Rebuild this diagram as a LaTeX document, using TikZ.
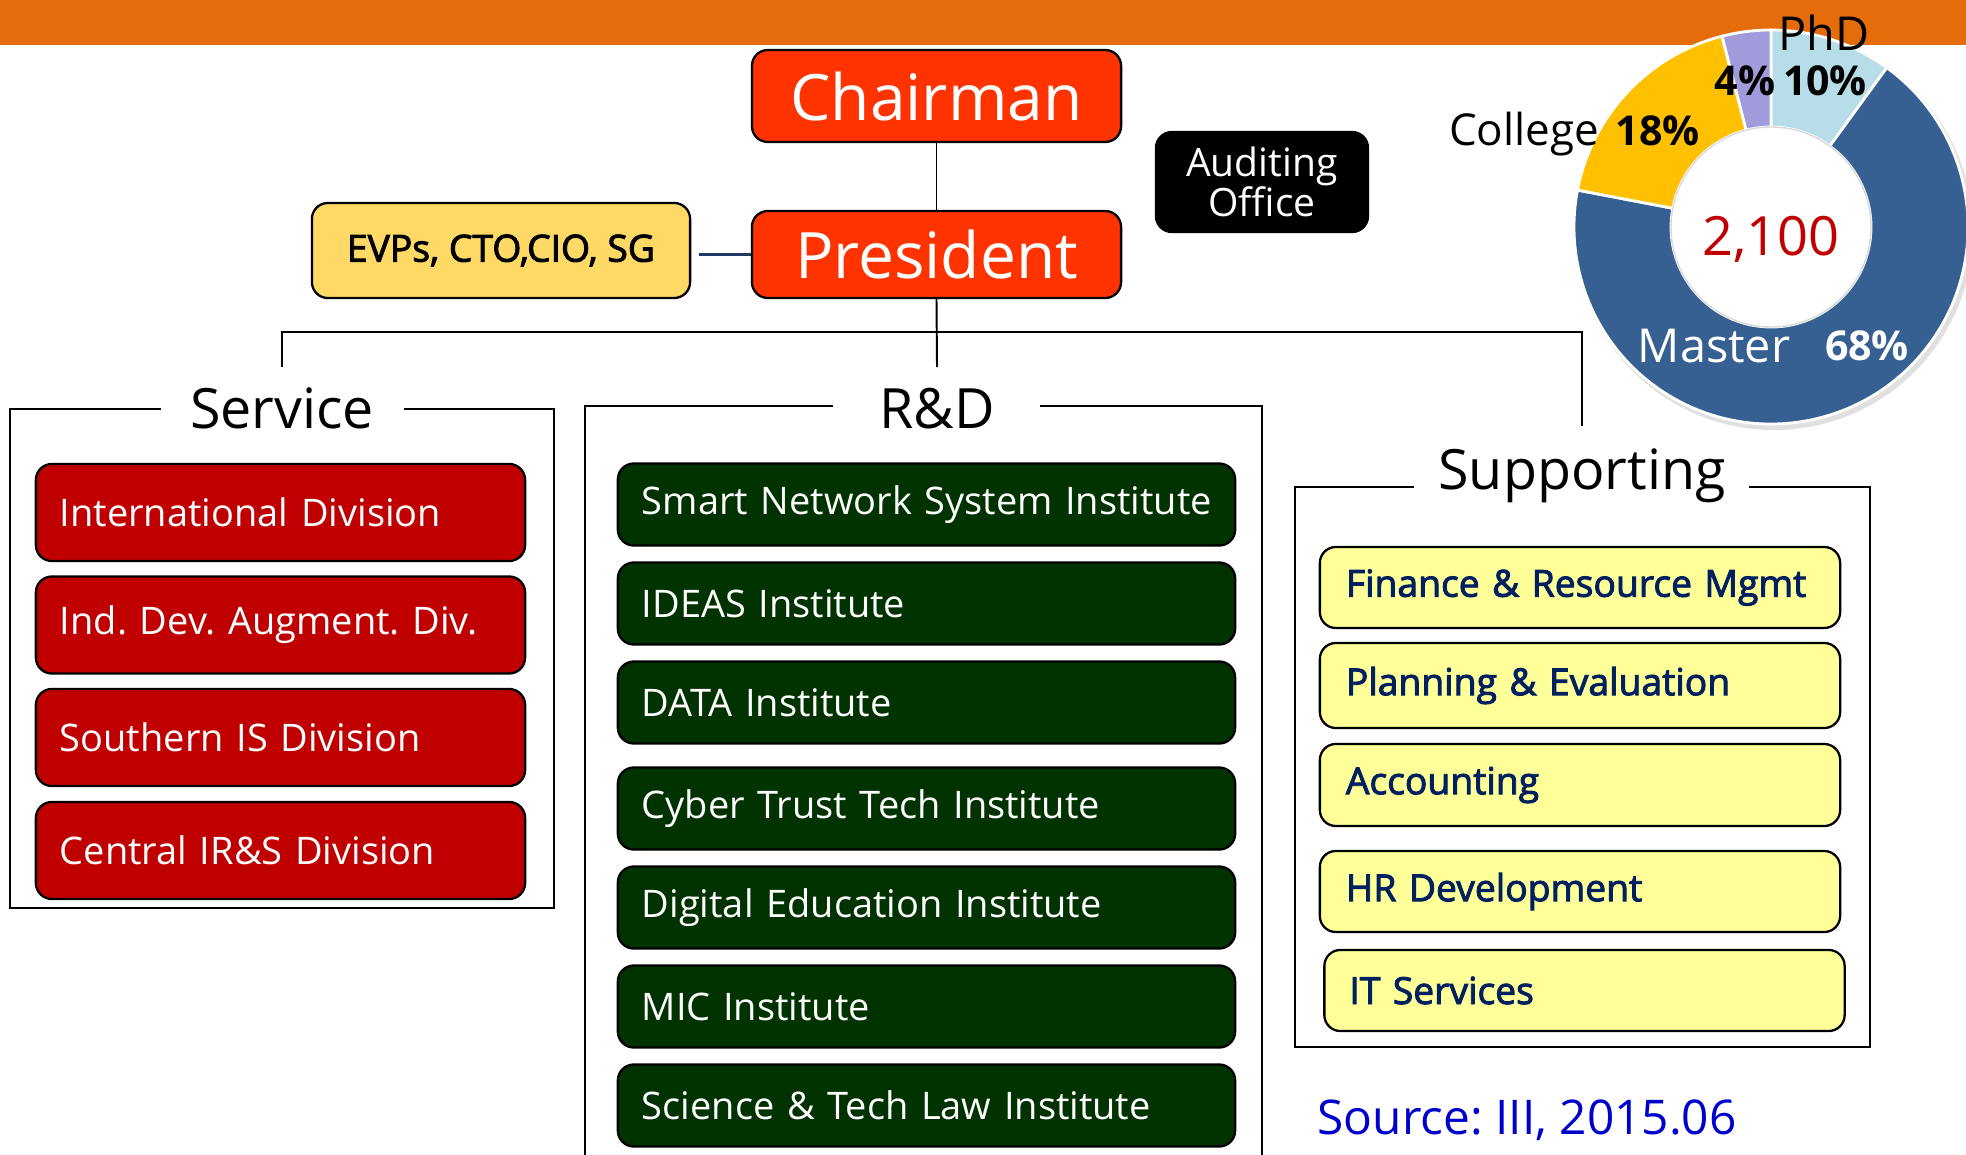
\documentclass[tikz,border=0pt]{standalone}
\usepackage{fontspec}
\setmainfont{Open Sans}
\newfontfamily\semib[FakeBold=2.5]{Open Sans}
\definecolor{orangebar}{RGB}{228,108,10}
\definecolor{topred}{RGB}{255,51,0}
\definecolor{evpfill}{RGB}{255,217,102}
\definecolor{svcred}{RGB}{192,0,0}
\definecolor{rdgreen}{RGB}{0,51,0}
\definecolor{supfill}{RGB}{255,255,153}
\definecolor{navytext}{RGB}{0,32,96}
\definecolor{evline}{RGB}{31,56,100}
\definecolor{phdcol}{RGB}{183,222,232}
\definecolor{mastercol}{RGB}{54,96,146}
\definecolor{collegecol}{RGB}{255,192,0}
\definecolor{othercol}{RGB}{160,156,220}
\definecolor{sourceblue}{RGB}{0,0,204}
\frenchspacing
\begin{document}
\begin{tikzpicture}[x=0.01cm,y=-0.01cm,
  box/.style={draw=black, line width=0.65pt, rounded corners=0.16cm, inner ysep=0pt},
  topbox/.style={box, fill=topred, text=white, minimum width=3.69cm, font=\fontsize{18.2}{20}\selectfont},
  listbox/.style={box, inner xsep=0pt, align=left, execute at begin node={\hspace*{#1}}},
  svcbox/.style={listbox=0.24cm, fill=svcred, text=white, font=\fontsize{10.8}{13}\selectfont,
     minimum height=0.97cm, text width=4.89cm},
  rdbox/.style={listbox=0.24cm, fill=rdgreen, text=white, font=\fontsize{10.8}{13}\selectfont,
     minimum height=0.82cm, text width=6.17cm},
  supbox/.style={listbox=#1, fill=supfill, text=navytext, font=\semib\fontsize{10.6}{13}\selectfont,
     text width=5.20cm},
  supbox/.default=0.26cm,
  grouptitle/.style={font=\fontsize{15.8}{18}\selectfont, anchor=base, inner sep=0pt},
  frame/.style={draw=black, line width=0.75pt},
  conn/.style={draw=black, line width=0.55pt},
  buscon/.style={draw=black, line width=0.8pt},
  pct/.style={font=\bfseries\fontsize{11.7}{13}\selectfont, anchor=base, inner sep=0pt},
  lbl/.style={font=\fontsize{13.3}{15}\selectfont, anchor=base, inner sep=0pt}]
\useasboundingbox (0,0) rectangle (1966,1154);
\clip (0,0) rectangle (1966,1154);

% top bar
\fill[orangebar] (0,0) rectangle (1966,45);

% top management
\node[topbox, minimum height=0.92cm] (chair) at (936.5,96) {Chairman};
\node[topbox, minimum height=0.87cm] (pres) at (936.5,254.5) {President};
\node[box, fill=black, text=white, minimum width=2.12cm, minimum height=1.00cm,
      align=center, font=\fontsize{11.1}{11.4}\selectfont] (audit) at (1262,182) {Auditing\\Office};
\node[box, fill=evpfill, text=black, minimum width=3.78cm, minimum height=0.95cm,
      font=\semib\fontsize{10.6}{13}\selectfont] (evps) at (501,250.5) {EVPs, CTO,CIO, SG};

\draw[conn] (chair) -- (pres);
\draw[draw=evline, line width=0.7pt, shorten <=0.08cm] (evps.east |- pres.west) -- (pres.west);

% bus
\coordinate (svtop) at (282,367);
\coordinate (rdtop) at (937,367);
\coordinate (sptop) at (1582,426);
\coordinate (busL) at (282,332);
\coordinate (busR) at (1582,332);
\draw[conn] (pres.south) -- (rdtop);
\draw[buscon] (svtop) -- (busL) -- (busR) -- (sptop);

% Service group
\draw[frame] (161,409) -| (10,908) -| (554,409) -- (404,409);
\node[grouptitle] (svtitle) at (282,428) {Service};
\node[svcbox] (s1) at (280.5,512.5) {International Division};
\node[svcbox] (s2) at (280.5,625) {Ind. Dev. Augment. Div.};
\node[svcbox] (s3) at (280.5,737.5) {Southern IS Division};
\node[svcbox] (s4) at (280.5,850.5) {Central IR\&S Division};

% R&D group
\draw[frame] (833,406) -| (585,1200);
\draw[frame] (1040,406) -| (1262,1200);
\node[grouptitle] (rdtitle) at (937,428) {R\&D};
\node[rdbox] (r1) at (926.5,504.5) {Smart Network System Institute};
\node[rdbox] (r2) at (926.5,603.5) {IDEAS Institute};
\node[rdbox] (r3) at (926.5,702.5) {DATA Institute};
\node[rdbox] (r4) at (926.5,808.5) {Cyber Trust Tech Institute};
\node[rdbox] (r5) at (926.5,907.5) {Digital Education Institute};
\node[rdbox] (r6) at (926.5,1006.5) {MIC Institute};
\node[rdbox] (r7) at (926.5,1105.5) {Science \& Tech Law Institute};

% Supporting group
\draw[frame] (1414,487) -| (1295,1047) -| (1870,487) -- (1749,487);
\node[grouptitle] (sptitle) at (1582,489) {Supporting};
\node[supbox, minimum height=0.81cm] (p1) at (1580,587.5) {Finance \& Resource Mgmt};
\node[supbox, minimum height=0.85cm] (p2) at (1580,685.5) {Planning \& Evaluation};
\node[supbox, minimum height=0.82cm] (p3) at (1580,785) {Accounting};
\node[supbox, minimum height=0.81cm] (p4) at (1580,891.5) {HR Development};
\node[supbox=0.25cm, minimum height=0.81cm] (p5) at (1584.5,990.5) {IT Services};

\node[font=\fontsize{13.6}{16}\selectfont, text=sourceblue, anchor=base west, inner sep=0pt] (src) at (1317,1134) {Source: III, 2015.06};

% donut chart
\begin{scope}[shift={(1771,227)}, yscale=-1]
  \fill[black!12] (3,-4) circle[radius=199];
  \fill[phdcol, draw=white, line width=0.8pt] (90:197) arc[start angle=90, end angle=54, radius=197] -- (54:100) arc[start angle=54, end angle=90, radius=100] -- cycle;
  \fill[mastercol, draw=white, line width=0.8pt] (54:197) arc[start angle=54, end angle=-190.8, radius=197] -- (-190.8:100) arc[start angle=-190.8, end angle=54, radius=100] -- cycle;
  \fill[collegecol, draw=white, line width=0.8pt] (-190.8:197) arc[start angle=-190.8, end angle=-255.6, radius=197] -- (-255.6:100) arc[start angle=-255.6, end angle=-190.8, radius=100] -- cycle;
  \fill[othercol, draw=white, line width=0.8pt] (-255.6:197) arc[start angle=-255.6, end angle=-270, radius=197] -- (-270:100) arc[start angle=-270, end angle=-255.6, radius=100] -- cycle;
  \fill[white, draw=black!15, line width=0.4pt] (0,0) circle[radius=100];
\end{scope}
\node[lbl] (phd) at (1824,50) {PhD};
\node[pct] (p4pct) at (1745,95) {4\%};
\node[pct] (p10pct) at (1825,95) {10\%};
\node[lbl, font=\fontsize{12.5}{15}\selectfont] (college) at (1524,145) {College};
\node[pct] (p18pct) at (1658,145) {18\%};
\node[lbl, font=\fontsize{15.4}{18}\selectfont, text=svcred] (total) at (1771,255) {2,100};
\node[lbl, text=white] (master) at (1714,362) {Master};
\node[pct, text=white] (p68pct) at (1867,360) {68\%};
\end{tikzpicture}
\end{document}
